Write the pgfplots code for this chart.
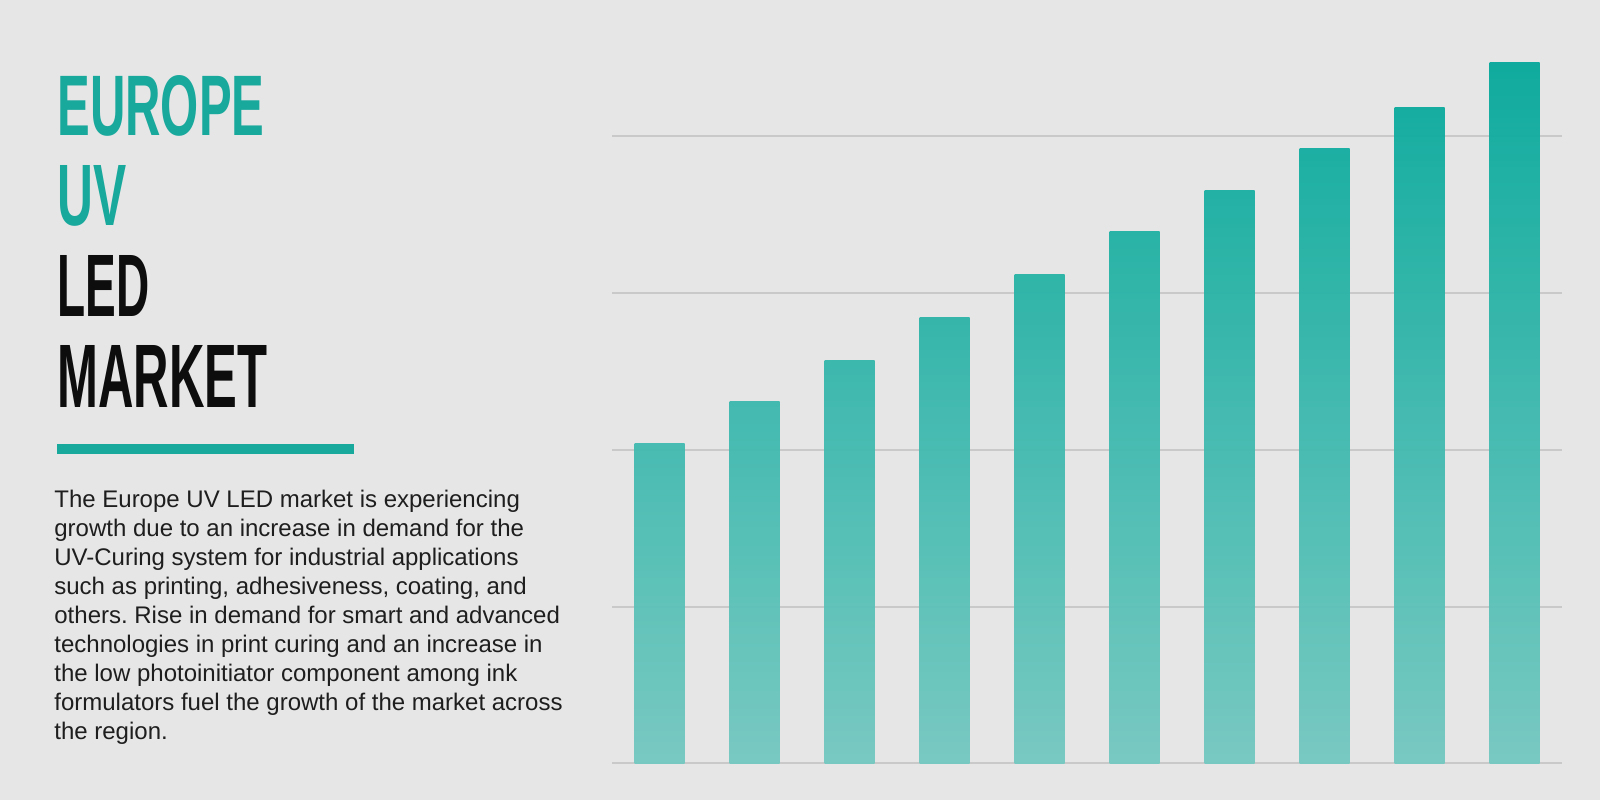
\documentclass[border=0pt]{standalone}
\usepackage{pgfplots}
\pgfplotsset{compat=1.18}
\usepackage{fontspec}
\setmainfont{Liberation Sans}
\newfontfamily\titlefont{Liberation Sans Bold}
\definecolor{bgc}{HTML}{E6E6E6}
\definecolor{gridc}{HTML}{C9C9C9}
\definecolor{titleteal}{HTML}{19A89C}
\definecolor{titleblack}{HTML}{0D0D0D}
\definecolor{bartop}{HTML}{03A89A}
\definecolor{barbot}{HTML}{72C8C0}
\definecolor{txt}{HTML}{1E1E1E}
\frenchspacing
\begin{document}
\begin{tikzpicture}
\fill[bgc] (0,0) rectangle (800pt,400pt);
% title
\node[anchor=base west,inner sep=0,text=titleteal] at (28.5pt,332.5pt) {\resizebox{103.5pt}{30pt}{\titlefont EUROPE}};
\node[anchor=base west,inner sep=0,text=titleteal] at (28.5pt,287.5pt) {\resizebox{34.5pt}{30pt}{\titlefont UV}};
\node[anchor=base west,inner sep=0,text=titleblack] at (28.5pt,242pt) {\resizebox{46pt}{30.5pt}{\titlefont LED}};
\node[anchor=base west,inner sep=0,text=titleblack] at (28.5pt,196.5pt) {\resizebox{105pt}{31pt}{\titlefont MARKET}};
\fill[titleteal] (28.5pt,173pt) rectangle (177pt,178pt);
% paragraph
\begin{scope}[every node/.style={anchor=base west,inner sep=0,text=txt,font=\fontsize{12pt}{14.5pt}\selectfont}]
\node at (27pt,146.5pt) {The Europe UV LED market is experiencing};
\node at (27pt,132pt) {growth due to an increase in demand for the};
\node at (27pt,117.5pt) {UV-Curing system for industrial applications};
\node at (27pt,103pt) {such as printing, adhesiveness, coating, and};
\node at (27pt,88.5pt) {others. Rise in demand for smart and advanced};
\node at (27pt,74pt) {technologies in print curing and an increase in};
\node at (27pt,59.5pt) {the low photoinitiator component among ink};
\node at (27pt,45pt) {formulators fuel the growth of the market across};
\node at (27pt,30.5pt) {the region.};
\end{scope}
\begin{axis}[
  at={(306pt,18.35pt)}, anchor=south west,
  scale only axis, width=475pt, height=376.32pt,
  xmin=-0.5, xmax=9.5, ymin=0, ymax=4.8,
  axis line style={draw=none},
  major tick length=0pt,
  xtick=\empty,
  ytick={0,1,2,3,4}, yticklabels={},
  ymajorgrids, grid style={color=gridc, line width=1pt},
  clip=false,
  every axis plot/.append style={ybar, bar width=25pt, bar shift=0pt, draw=none, fill opacity=0.94, bottom color=barbot},
]
\addplot[top color=bartop!45.6!barbot] coordinates {(0,2.04)};
\addplot[top color=bartop!51.7!barbot] coordinates {(1,2.31)};
\addplot[top color=bartop!57.5!barbot] coordinates {(2,2.57)};
\addplot[top color=bartop!63.5!barbot] coordinates {(3,2.84)};
\addplot[top color=bartop!69.8!barbot] coordinates {(4,3.12)};
\addplot[top color=bartop!75.8!barbot] coordinates {(5,3.39)};
\addplot[top color=bartop!81.7!barbot] coordinates {(6,3.65)};
\addplot[top color=bartop!87.7!barbot] coordinates {(7,3.92)};
\addplot[top color=bartop!93.5!barbot] coordinates {(8,4.18)};
\addplot[top color=bartop!100!barbot] coordinates {(9,4.47)};
\end{axis}
\pgfresetboundingbox
\path (0,0) rectangle (800pt,400pt);
\end{tikzpicture}
\end{document}
